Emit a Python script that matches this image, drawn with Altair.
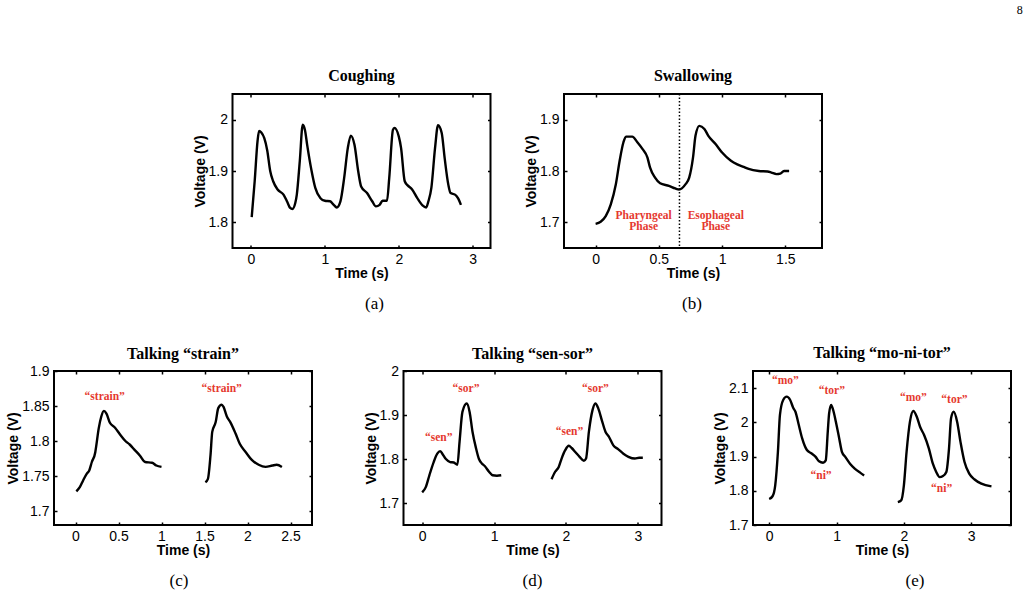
import altair as alt
import pandas as pd

RED = "#E5392F"
SERIF = "Liberation Serif"
SANS = "Liberation Sans"

# ---------------- (a) Coughing ----------------
cough_t = [0.01, 0.05, 0.09, 0.11, 0.14, 0.18, 0.22, 0.26, 0.30, 0.36, 0.44, 0.49, 0.53, 0.56,
           0.60, 0.62, 0.66, 0.70, 0.73, 0.76, 0.82, 0.87, 0.94, 1.00, 1.07, 1.12, 1.16, 1.21,
           1.26, 1.31, 1.35, 1.40, 1.45, 1.49, 1.57, 1.64, 1.69, 1.74, 1.78, 1.84, 1.87, 1.92,
           1.94, 2.00, 2.03, 2.08, 2.12, 2.18, 2.25, 2.32, 2.37, 2.40, 2.44, 2.49, 2.53, 2.58,
           2.62, 2.67, 2.70, 2.76, 2.80, 2.84]
cough_v = [1.810, 1.880, 1.960, 1.978, 1.975, 1.964, 1.940, 1.900, 1.880, 1.864, 1.854, 1.840, 1.828, 1.826,
           1.838, 1.854, 1.919, 1.990, 1.980, 1.951, 1.900, 1.867, 1.847, 1.842, 1.841, 1.834, 1.829, 1.841,
           1.886, 1.945, 1.969, 1.951, 1.900, 1.870, 1.857, 1.841, 1.831, 1.834, 1.842, 1.842, 1.886, 1.980,
           1.984, 1.967, 1.945, 1.880, 1.872, 1.864, 1.847, 1.833, 1.829, 1.841, 1.867, 1.945, 1.989, 1.974,
           1.925, 1.873, 1.857, 1.854, 1.847, 1.834]

# ---------------- (b) Swallowing ----------------
swallow_t = [0.00, 0.04, 0.08, 0.12, 0.16, 0.19, 0.22, 0.24, 0.29, 0.33, 0.37, 0.41, 0.43, 0.47,
             0.51, 0.58, 0.63, 0.66, 0.71, 0.74, 0.77, 0.79, 0.82, 0.86, 0.89, 0.95, 1.00, 1.07,
             1.12, 1.17, 1.21, 1.29, 1.36, 1.39, 1.43, 1.46, 1.49, 1.53]
swallow_v = [1.697, 1.701, 1.712, 1.735, 1.774, 1.820, 1.856, 1.867, 1.867, 1.856, 1.843, 1.826, 1.807, 1.787,
             1.776, 1.771, 1.766, 1.764, 1.774, 1.787, 1.826, 1.869, 1.888, 1.882, 1.869, 1.852, 1.836, 1.820,
             1.813, 1.808, 1.804, 1.800, 1.799, 1.797, 1.794, 1.795, 1.800, 1.800]
phase_split = [0.663]
phase_x = [0.38, 0.38, 0.95, 0.95]
phase_y = [1.712, 1.690, 1.712, 1.690]
phase_text = ["Pharyngeal", "Phase", "Esophageal", "Phase"]

# ---------------- (c) Talking "strain" ----------------
strain_t = [0.01, 0.05, 0.09, 0.13, 0.16, 0.19, 0.23, 0.24, 0.27, 0.30, 0.33, 0.36, 0.40, 0.46, 0.52,
            0.58, 0.63, 0.69, 0.75, 0.81, 0.89, 0.94, 1.00,
            1.51, 1.54, 1.57, 1.59, 1.63, 1.66, 1.70, 1.72, 1.76, 1.80, 1.86, 1.91, 1.98, 2.05,
            2.13, 2.21, 2.29, 2.34, 2.40]
strain_v = [1.728, 1.734, 1.744, 1.753, 1.758, 1.770, 1.784, 1.792, 1.818, 1.835, 1.843, 1.839, 1.826, 1.819, 1.809,
            1.800, 1.795, 1.787, 1.779, 1.770, 1.769, 1.765, 1.763,
            1.741, 1.746, 1.780, 1.813, 1.827, 1.847, 1.852, 1.849, 1.835, 1.827, 1.811, 1.796, 1.784, 1.773,
            1.766, 1.763, 1.765, 1.766, 1.763]
strain_seg = [1] * 23 + [2] * 19
strain_lx = [0.34, 1.70]
strain_ly = [1.863, 1.874]
strain_lt = ["\u201cstrain\u201d", "\u201cstrain\u201d"]

# ---------------- (d) Talking "sen-sor" ----------------
sensor_t = [0.00, 0.05, 0.10, 0.16, 0.21, 0.25, 0.28, 0.33, 0.39, 0.44, 0.49, 0.52, 0.56, 0.62, 0.66,
            0.70, 0.75, 0.79, 0.83, 0.87, 0.93, 0.98, 1.04, 1.10,
            1.80, 1.85, 1.90, 1.94, 1.99, 2.04, 2.08, 2.13, 2.19, 2.25, 2.28, 2.32, 2.37, 2.41, 2.45,
            2.50, 2.55, 2.60, 2.66, 2.73, 2.80, 2.87, 2.96, 3.02, 3.07]
sensor_v = [1.724, 1.736, 1.763, 1.793, 1.812, 1.818, 1.812, 1.800, 1.793, 1.792, 1.787, 1.839, 1.907, 1.926, 1.907,
            1.862, 1.824, 1.800, 1.790, 1.784, 1.771, 1.763, 1.762, 1.763,
            1.754, 1.771, 1.782, 1.801, 1.820, 1.830, 1.825, 1.816, 1.805, 1.796, 1.801, 1.862, 1.911, 1.926, 1.915,
            1.888, 1.862, 1.850, 1.831, 1.822, 1.812, 1.805, 1.801, 1.803, 1.803]
sensor_seg = [1] * 24 + [2] * 25
sensor_lx = [0.23, 0.61, 2.05, 2.41]
sensor_ly = [1.848, 1.958, 1.862, 1.958]
sensor_lt = ["\u201csen\u201d", "\u201csor\u201d", "\u201csen\u201d", "\u201csor\u201d"]

# ---------------- (e) Talking "mo-ni-tor" ----------------
monitor_t = [0.00, 0.05, 0.09, 0.13, 0.16, 0.21, 0.26, 0.31, 0.36, 0.39, 0.44, 0.49, 0.56, 0.63, 0.69,
             0.74, 0.80, 0.84, 0.87, 0.89, 0.92, 0.95, 0.99, 1.04, 1.08, 1.13, 1.20, 1.27, 1.35, 1.41,
             1.91, 1.96, 2.00, 2.04, 2.09, 2.14, 2.19, 2.24, 2.30, 2.37, 2.43, 2.48, 2.53, 2.58, 2.63,
             2.67, 2.70, 2.74, 2.79, 2.84, 2.90, 2.97, 3.05, 3.15, 3.30]
monitor_v = [1.776, 1.784, 1.816, 1.914, 2.022, 2.066, 2.075, 2.066, 2.041, 2.031, 1.992, 1.953, 1.919, 1.909, 1.899,
             1.886, 1.882, 1.889, 1.973, 2.026, 2.051, 2.036, 2.002, 1.953, 1.914, 1.899, 1.879, 1.865, 1.853, 1.845,
             1.767, 1.772, 1.816, 1.914, 2.002, 2.033, 2.017, 1.987, 1.963, 1.924, 1.879, 1.855, 1.840, 1.843, 1.855,
             1.924, 2.012, 2.031, 2.002, 1.943, 1.884, 1.850, 1.833, 1.821, 1.813]
monitor_seg = [1] * 30 + [2] * 25
monitor_lx = [0.24, 0.93, 0.77, 2.14, 2.75, 2.56]
monitor_ly = [2.120, 2.092, 1.843, 2.071, 2.066, 1.806]
monitor_lt = ["\u201cmo\u201d", "\u201ctor\u201d", "\u201cni\u201d", "\u201cmo\u201d", "\u201ctor\u201d", "\u201cni\u201d"]

W, H = 258, 154


def panel(title, caption, cap_x, t, v, seg, xdom, ydom, xticks, yticks,
          lab_x=None, lab_y=None, lab_t=None, split=None, title_offset=-4):
    df = pd.DataFrame({"t": t, "v": v, "seg": seg})
    xs = alt.Scale(domain=xdom, nice=False, zero=False)
    ys = alt.Scale(domain=ydom, nice=False, zero=False)
    common = dict(offset=-3, tickSize=3, tickWidth=1.5, tickColor="black", domain=False, grid=False,
                  minExtent=0)
    ax_b = alt.Axis(orient="bottom", values=xticks, format="~g", labelPadding=4, labelFont=SANS,
                    labelFontSize=14, labelColor="black", title="Time (s)", titleFont=SANS,
                    titleFontSize=14, titleFontWeight="bold", titleColor="black", titlePadding=0, **common)
    ax_l = alt.Axis(orient="left", values=yticks, format="~g", labelPadding=5, labelFont=SANS,
                    labelFontSize=14, labelColor="black", title="Voltage (V)", titleFont=SANS,
                    titleFontSize=14, titleFontWeight="bold", titleColor="black", titlePadding=1, **common)
    ax_t = alt.Axis(orient="top", values=xticks, labels=False, title=None, maxExtent=0,
                    labelPadding=0, **common)
    ax_r = alt.Axis(orient="right", values=yticks, labels=False, title=None, maxExtent=0,
                    labelPadding=0, **common)

    line = alt.Chart(df).mark_line(color="black", strokeWidth=2.4, interpolate="monotone").encode(
        x=alt.X("t:Q", scale=xs, axis=ax_b),
        y=alt.Y("v:Q", scale=ys, axis=ax_l),
        detail="seg:N",
    )
    box_ticks = alt.Chart(df).mark_point(opacity=0).encode(
        x=alt.X("t:Q", scale=xs, axis=ax_t),
        y=alt.Y("v:Q", scale=ys, axis=ax_r),
    )
    layers = [line, box_ticks]
    if split is not None:
        layers.append(
            alt.Chart(pd.DataFrame({"t": split})).mark_rule(
                color="black", strokeWidth=1.5, strokeDash=[1.5, 2]
            ).encode(x=alt.X("t:Q", scale=xs, axis=None))
        )
    if lab_x is not None:
        layers.append(
            alt.Chart(pd.DataFrame({"x": lab_x, "y": lab_y, "s": lab_t})).mark_text(
                color=RED, font=SERIF, fontWeight="bold", fontSize=11.5
            ).encode(
                x=alt.X("x:Q", scale=xs, axis=None),
                y=alt.Y("y:Q", scale=ys, axis=None),
                text="s:N",
            )
        )
    layers.append(
        alt.Chart(pd.DataFrame({"c": [caption]})).mark_text(
            font=SERIF, fontSize=17, baseline="alphabetic", color="black"
        ).encode(x=alt.value(cap_x), y=alt.value(215), text="c:N")
    )
    return alt.layer(*layers).resolve_axis(x="independent", y="independent").properties(
        width=W, height=H,
        title=alt.TitleParams(title, font=SERIF, fontSize=16, fontWeight="bold", color="black",
                              anchor="middle", frame="group", offset=title_offset,
                              baseline="alphabetic"),
    )


pa = panel("Coughing", "(a)", 142, cough_t, cough_v, [1] * len(cough_t),
           [-0.25, 3.24], [1.75, 2.05], [0, 1, 2, 3], [1.8, 1.9, 2.0])
pb = panel("Swallowing", "(b)", 128, swallow_t, swallow_v, [1] * len(swallow_t),
           [-0.25, 1.79], [1.65, 1.95], [0, 0.5, 1, 1.5], [1.7, 1.8, 1.9],
           phase_x, phase_y, phase_text, split=phase_split)
pc = panel("Talking \u201cstrain\u201d", "(c)", 125, strain_t, strain_v, strain_seg,
           [-0.25, 2.75], [1.68, 1.9], [0, 0.5, 1, 1.5, 2, 2.5], [1.7, 1.75, 1.8, 1.85, 1.9],
           strain_lx, strain_ly, strain_lt, title_offset=-11)
pd_ = panel("Talking \u201csen-sor\u201d", "(d)", 129, sensor_t, sensor_v, sensor_seg,
            [-0.26, 3.33], [1.65, 2.0], [0, 1, 2, 3], [1.7, 1.8, 1.9, 2.0],
            sensor_lx, sensor_ly, sensor_lt, title_offset=-11)
pe = panel("Talking \u201cmo-ni-tor\u201d", "(e)", 162, monitor_t, monitor_v, monitor_seg,
           [-0.24, 3.59], [1.7, 2.15], [0, 1, 2, 3], [1.7, 1.8, 1.9, 2.0, 2.1],
           monitor_lx, monitor_ly, monitor_lt)

# empty, frameless cell that indents the upper row
indent = alt.Chart(pd.DataFrame({"z": [0]})).mark_point(opacity=0).encode(
    x=alt.value(0), y=alt.value(0)
).properties(width=105, height=H, view=alt.ViewBackground(strokeOpacity=0))

top = alt.hconcat(indent, pa, pb, spacing=73.5, bounds="flush")
bottom = alt.hconcat(pc, pd_, pe, spacing=91.5, bounds="flush")

chart = alt.vconcat(
    top, bottom, spacing=31,
    title=alt.TitleParams("8", anchor="end", font=SERIF, fontSize=12, fontWeight="normal",
                          color="black", offset=50, dx=10),
).properties(
    padding={"left": 5, "top": 4, "right": 5, "bottom": 5},
    background="white",
).configure_view(stroke="black", strokeWidth=2)

chart.save("out.html", embed_options={"renderer": "svg", "actions": False})
